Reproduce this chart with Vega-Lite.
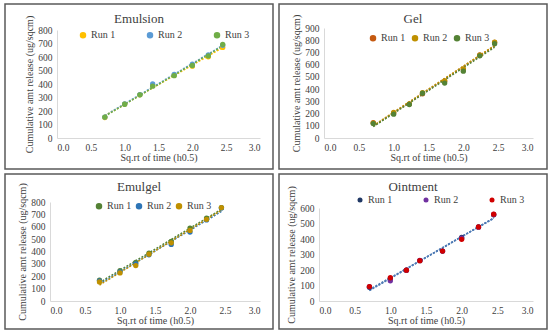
{
  "$schema": "https://vega.github.io/schema/vega-lite/v6.json",
  "background": "white",
  "padding": {"left": 4, "top": 3, "right": 0, "bottom": 0},
  "spacing": 3,
  "config": {
    "font": "Liberation Serif",
    "view": {"stroke": "#595959", "strokeWidth": 1.5},
    "axis": {"grid": false, "ticks": false, "domainColor": "#d9d9d9", "labelFont": "Liberation Serif", "titleFont": "Liberation Serif", "labelFontSize": 9.5, "titleFontSize": 10, "labelColor": "#404040", "titleColor": "#404040", "titleFontWeight": "normal"},
    "legend": {"labelFont": "Liberation Serif", "labelFontSize": 10, "labelColor": "#404040", "symbolType": "circle", "symbolSize": 25, "padding": 0, "labelOffset": 3, "title": null, "direction": "horizontal", "orient": "none"},
    "title": {"font": "Liberation Serif", "fontSize": 13, "fontWeight": "normal", "color": "#404040", "anchor": "middle"}
  },
  "resolve": {"scale": {"color": "independent", "x": "independent", "y": "independent"}, "legend": {"color": "independent"}},
  "vconcat": [
    {
      "spacing": 4,
      "resolve": {"scale": {"color": "independent", "x": "independent", "y": "independent"}, "legend": {"color": "independent"}},
      "hconcat": [
        {
          "width": 268, "height": 165,
          "title": {"text": "Emulsion", "offset": -22},
          "data": {"values": [
            {"x": 0.707, "run": "Run 1", "y": 152}, {"x": 1.0, "run": "Run 1", "y": 250}, {"x": 1.225, "run": "Run 1", "y": 320}, {"x": 1.414, "run": "Run 1", "y": 388}, {"x": 1.732, "run": "Run 1", "y": 465}, {"x": 2.0, "run": "Run 1", "y": 532}, {"x": 2.236, "run": "Run 1", "y": 601}, {"x": 2.449, "run": "Run 1", "y": 671},
            {"x": 0.707, "run": "Run 2", "y": 155}, {"x": 1.0, "run": "Run 2", "y": 252}, {"x": 1.225, "run": "Run 2", "y": 322}, {"x": 1.414, "run": "Run 2", "y": 400}, {"x": 1.732, "run": "Run 2", "y": 472}, {"x": 2.0, "run": "Run 2", "y": 547}, {"x": 2.236, "run": "Run 2", "y": 616}, {"x": 2.449, "run": "Run 2", "y": 687},
            {"x": 0.707, "run": "Run 3", "y": 155}, {"x": 1.0, "run": "Run 3", "y": 250}, {"x": 1.225, "run": "Run 3", "y": 320}, {"x": 1.414, "run": "Run 3", "y": 384}, {"x": 1.732, "run": "Run 3", "y": 462}, {"x": 2.0, "run": "Run 3", "y": 537}, {"x": 2.236, "run": "Run 3", "y": 608}, {"x": 2.449, "run": "Run 3", "y": 693}
          ]},
          "encoding": {
            "x": {"field": "x", "type": "quantitative", "scale": {"domain": [0, 3], "range": [52, 255], "nice": false}, "axis": {"offset": -31, "values": [0, 0.5, 1, 1.5, 2, 2.5, 3], "format": ".1f", "title": "Sq.rt of time (h0.5)", "labelPadding": 4, "titlePadding": 1}},
            "y": {"field": "y", "type": "quantitative", "scale": {"domain": [0, 800], "range": [134, 26], "nice": false, "zero": false}, "axis": {"offset": -52, "values": [0, 100, 200, 300, 400, 500, 600, 700, 800], "title": "Cumulative amt release (ug/sqcm)", "labelPadding": 5, "titlePadding": 3}},
            "color": {"field": "run", "type": "nominal", "scale": {"domain": ["Run 1", "Run 2", "Run 3"], "range": ["#FFC000", "#5B9BD5", "#70AD47"]}, "legend": {"legendX": 73, "legendY": 26, "columnPadding": 28}}
          },
          "layer": [
            {"transform": [{"regression": "y", "on": "x", "groupby": ["run"]}], "mark": {"type": "line", "strokeDash": [2, 1.5], "strokeWidth": 1.5}},
            {"mark": {"type": "circle", "size": 28, "opacity": 1}}
          ]
        },
        {
          "width": 268, "height": 165,
          "title": {"text": "Gel", "offset": -22},
          "data": {"values": [
            {"x": 0.707, "run": "Run 1", "y": 125}, {"x": 1.0, "run": "Run 1", "y": 205}, {"x": 1.225, "run": "Run 1", "y": 278}, {"x": 1.414, "run": "Run 1", "y": 362}, {"x": 1.732, "run": "Run 1", "y": 465}, {"x": 2.0, "run": "Run 1", "y": 562}, {"x": 2.236, "run": "Run 1", "y": 680}, {"x": 2.449, "run": "Run 1", "y": 782},
            {"x": 0.707, "run": "Run 2", "y": 122}, {"x": 1.0, "run": "Run 2", "y": 210}, {"x": 1.225, "run": "Run 2", "y": 280}, {"x": 1.414, "run": "Run 2", "y": 372}, {"x": 1.732, "run": "Run 2", "y": 468}, {"x": 2.0, "run": "Run 2", "y": 566}, {"x": 2.236, "run": "Run 2", "y": 678}, {"x": 2.449, "run": "Run 2", "y": 785},
            {"x": 0.707, "run": "Run 3", "y": 118}, {"x": 1.0, "run": "Run 3", "y": 195}, {"x": 1.225, "run": "Run 3", "y": 274}, {"x": 1.414, "run": "Run 3", "y": 366}, {"x": 1.732, "run": "Run 3", "y": 449}, {"x": 2.0, "run": "Run 3", "y": 547}, {"x": 2.236, "run": "Run 3", "y": 672}, {"x": 2.449, "run": "Run 3", "y": 772}
          ]},
          "encoding": {
            "x": {"field": "x", "type": "quantitative", "scale": {"domain": [0, 3], "range": [45, 254], "nice": false}, "axis": {"offset": -31, "values": [0, 0.5, 1, 1.5, 2, 2.5, 3], "format": ".1f", "title": "Sq.rt of time (h0.5)", "labelPadding": 4, "titlePadding": 1}},
            "y": {"field": "y", "type": "quantitative", "scale": {"domain": [0, 900], "range": [134, 24], "nice": false, "zero": false}, "axis": {"offset": -45, "values": [0, 100, 200, 300, 400, 500, 600, 700, 800, 900], "title": "Cumulative amt release (ug/sqcm)", "labelPadding": 5, "titlePadding": 3}},
            "color": {"field": "run", "type": "nominal", "scale": {"domain": ["Run 1", "Run 2", "Run 3"], "range": ["#C55A11", "#BF9000", "#548235"]}, "legend": {"legendX": 89, "legendY": 29, "columnPadding": 3}}
          },
          "layer": [
            {"transform": [{"regression": "y", "on": "x", "groupby": ["run"]}], "mark": {"type": "line", "strokeDash": [2, 1.5], "strokeWidth": 1.5}},
            {"mark": {"type": "circle", "size": 28, "opacity": 1}}
          ]
        }
      ]
    },
    {
      "spacing": 4,
      "resolve": {"scale": {"color": "independent", "x": "independent", "y": "independent"}, "legend": {"color": "independent"}},
      "hconcat": [
        {
          "width": 268, "height": 155,
          "title": {"text": "Emulgel", "offset": -20},
          "data": {"values": [
            {"x": 0.707, "run": "Run 1", "y": 168}, {"x": 1.0, "run": "Run 1", "y": 246}, {"x": 1.225, "run": "Run 1", "y": 311}, {"x": 1.414, "run": "Run 1", "y": 386}, {"x": 1.732, "run": "Run 1", "y": 481}, {"x": 2.0, "run": "Run 1", "y": 589}, {"x": 2.236, "run": "Run 1", "y": 670}, {"x": 2.449, "run": "Run 1", "y": 754},
            {"x": 0.707, "run": "Run 2", "y": 163}, {"x": 1.0, "run": "Run 2", "y": 235}, {"x": 1.225, "run": "Run 2", "y": 300}, {"x": 1.414, "run": "Run 2", "y": 373}, {"x": 1.732, "run": "Run 2", "y": 457}, {"x": 2.0, "run": "Run 2", "y": 557}, {"x": 2.236, "run": "Run 2", "y": 655}, {"x": 2.449, "run": "Run 2", "y": 752},
            {"x": 0.707, "run": "Run 3", "y": 154}, {"x": 1.0, "run": "Run 3", "y": 227}, {"x": 1.225, "run": "Run 3", "y": 286}, {"x": 1.414, "run": "Run 3", "y": 378}, {"x": 1.732, "run": "Run 3", "y": 470}, {"x": 2.0, "run": "Run 3", "y": 570}, {"x": 2.236, "run": "Run 3", "y": 660}, {"x": 2.449, "run": "Run 3", "y": 755}
          ]},
          "encoding": {
            "x": {"field": "x", "type": "quantitative", "scale": {"domain": [0, 3], "range": [45, 255], "nice": false}, "axis": {"offset": -28, "values": [0, 0.5, 1, 1.5, 2, 2.5, 3], "format": ".1f", "title": "Sq.rt of time (h0.5)", "labelPadding": 4, "titlePadding": 1}},
            "y": {"field": "y", "type": "quantitative", "scale": {"domain": [0, 800], "range": [127, 28], "nice": false, "zero": false}, "axis": {"offset": -45, "values": [0, 100, 200, 300, 400, 500, 600, 700, 800], "title": "Cumulative amt release (ug/sqcm)", "labelPadding": 5, "titlePadding": 3}},
            "color": {"field": "run", "type": "nominal", "scale": {"domain": ["Run 1", "Run 2", "Run 3"], "range": ["#548235", "#2E75B6", "#BF9000"]}, "legend": {"legendX": 89, "legendY": 27, "columnPadding": 1}}
          },
          "layer": [
            {"transform": [{"regression": "y", "on": "x", "groupby": ["run"]}], "mark": {"type": "line", "strokeDash": [2, 1.5], "strokeWidth": 1.5}},
            {"mark": {"type": "circle", "size": 28, "opacity": 1}}
          ]
        },
        {
          "width": 268, "height": 155,
          "title": {"text": "Ointment", "offset": -20},
          "data": {"values": [
            {"x": 0.707, "run": "Run 1", "y": 88}, {"x": 1.0, "run": "Run 1", "y": 145}, {"x": 1.225, "run": "Run 1", "y": 199}, {"x": 1.414, "run": "Run 1", "y": 260}, {"x": 1.732, "run": "Run 1", "y": 322}, {"x": 2.0, "run": "Run 1", "y": 410}, {"x": 2.236, "run": "Run 1", "y": 478}, {"x": 2.449, "run": "Run 1", "y": 556},
            {"x": 0.707, "run": "Run 2", "y": 92}, {"x": 1.0, "run": "Run 2", "y": 130}, {"x": 1.225, "run": "Run 2", "y": 199}, {"x": 1.414, "run": "Run 2", "y": 262}, {"x": 1.732, "run": "Run 2", "y": 322}, {"x": 2.0, "run": "Run 2", "y": 405}, {"x": 2.236, "run": "Run 2", "y": 476}, {"x": 2.449, "run": "Run 2", "y": 558},
            {"x": 0.707, "run": "Run 3", "y": 93}, {"x": 1.0, "run": "Run 3", "y": 150}, {"x": 1.225, "run": "Run 3", "y": 199}, {"x": 1.414, "run": "Run 3", "y": 260}, {"x": 1.732, "run": "Run 3", "y": 322}, {"x": 2.0, "run": "Run 3", "y": 398}, {"x": 2.236, "run": "Run 3", "y": 478}, {"x": 2.449, "run": "Run 3", "y": 560}
          ]},
          "encoding": {
            "x": {"field": "x", "type": "quantitative", "scale": {"domain": [0, 3], "range": [40, 254], "nice": false}, "axis": {"offset": -28, "values": [0, 0.5, 1, 1.5, 2, 2.5, 3], "format": ".1f", "title": "Sq.rt of time (h0.5)", "labelPadding": 4, "titlePadding": 1}},
            "y": {"field": "y", "type": "quantitative", "scale": {"domain": [0, 600], "range": [127, 34], "nice": false, "zero": false}, "axis": {"offset": -40, "values": [0, 100, 200, 300, 400, 500, 600], "title": "Cumulative amt release (ug/sqcm)", "labelPadding": 5, "titlePadding": 3}}
          },
          "layer": [
            {"transform": [{"regression": "y", "on": "x", "groupby": ["run"]}], "mark": {"type": "line", "strokeDash": [2, 1.5], "strokeWidth": 1.5}, "encoding": {"detail": {"field": "run", "type": "nominal"}, "color": {"value": "#4F7BB5"}}},
            {"mark": {"type": "circle", "size": 28, "opacity": 1}, "encoding": {"color": {"field": "run", "type": "nominal", "scale": {"domain": ["Run 1", "Run 2", "Run 3"], "range": ["#203864", "#7030A0", "#D00000"]}, "legend": {"legendX": 76, "legendY": 21, "columnPadding": 28}}}}
          ]
        }
      ]
    }
  ]
}
